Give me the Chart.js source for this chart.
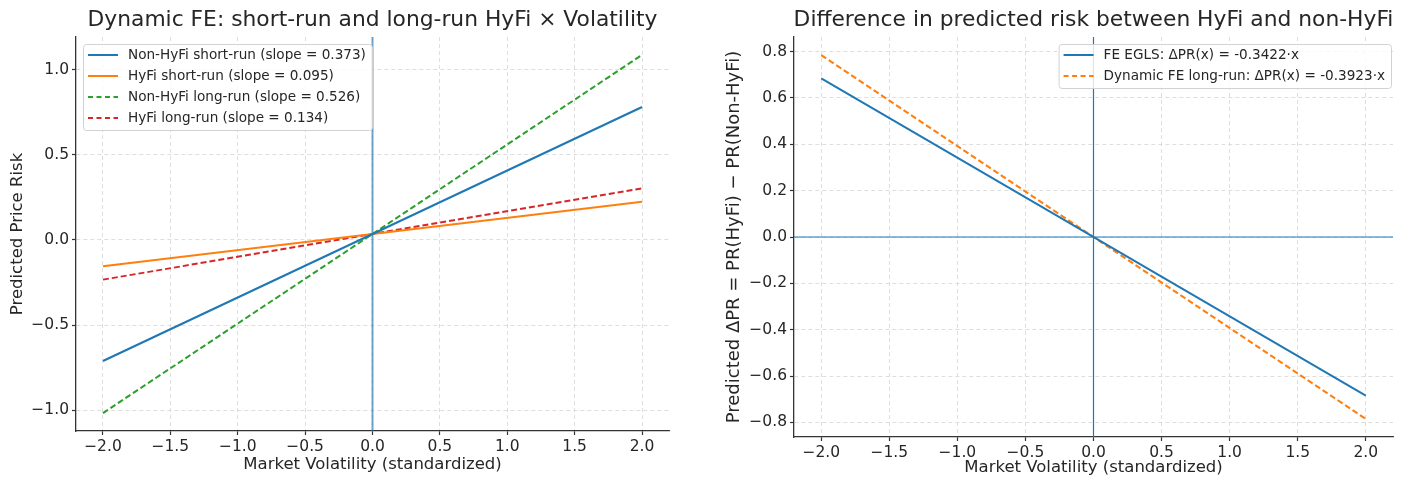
<!DOCTYPE html>
<html>
<head>
<meta charset="utf-8">
<script src="https://cdn.jsdelivr.net/npm/chart.js@4/dist/chart.umd.min.js"></script>
<style>
  body { margin: 0; background: #fff; }
  #wrap { position: relative; width: 1415px; height: 480px; }
  .panel { position: absolute; top: 0; height: 480px; }
</style>
</head>
<body>
<div id="wrap">
  <div class="panel" style="left:0;width:700px"><canvas id="left" width="700" height="480"></canvas></div>
  <div class="panel" style="left:700px;width:715px"><canvas id="right" width="715" height="480"></canvas></div>
</div>
<script>
// values (endpoints at x = -2 and x = 2)
const xVals = [-2, 2];
const nonHyfiShort = [-0.711, 0.781];
const hyfiShort = [-0.155, 0.225];
const nonHyfiLong = [-1.017, 1.087];
const hyfiLong = [-0.233, 0.303];
const feEgls = [0.684, -0.684];
const dynLongDiff = [0.785, -0.785];

const xTicks = [-2, -1.5, -1, -0.5, 0, 0.5, 1, 1.5, 2];
const leftYTicks = [-1, -0.5, 0, 0.5, 1];
const rightYTicks = [-0.8, -0.6, -0.4, -0.2, 0, 0.2, 0.4, 0.6, 0.8];

const FONT = "'DejaVu Sans', sans-serif";
const TXT = '#262626';

function pts(ys) { return xVals.map((x, i) => ({ x: x, y: ys[i] })); }
function fmt(v) { return (v < 0 ? '\u2212' : '') + Math.abs(v).toFixed(1); }

function series(label, ys, color, dashed) {
  return {
    label: label, data: pts(ys), borderColor: color, backgroundColor: color,
    borderWidth: 2, borderDash: dashed ? [6, 3] : [], pointRadius: 0, tension: 0
  };
}

// title centred over the plot area
const titlePlugin = {
  id: 'ptitle',
  afterDraw(chart, args, o) {
    const c = chart.ctx, a = chart.chartArea;
    c.save();
    c.font = '21.8px ' + FONT;
    c.fillStyle = TXT;
    c.textAlign = 'center';
    c.textBaseline = 'middle';
    c.fillText(o.text, (a.left + a.right) / 2, o.y);
    c.restore();
  }
};

// reference lines at 0
const zeroLines = {
  id: 'zeros',
  beforeDatasetsDraw(chart, args, o) {
    const c = chart.ctx, a = chart.chartArea;
    c.save();
    c.strokeStyle = o.color;
    c.lineWidth = o.width;
    const x0 = chart.scales.x.getPixelForValue(0);
    c.beginPath(); c.moveTo(x0, a.top); c.lineTo(x0, a.bottom); c.stroke();
    if (o.horizontal) {
      const y0 = chart.scales.y.getPixelForValue(0);
      c.beginPath(); c.moveTo(a.left, y0); c.lineTo(a.right, y0); c.stroke();
    }
    c.restore();
  }
};

// matplotlib-like legend inside the plot
const boxLegend = {
  id: 'boxlegend',
  afterDatasetsDraw(chart, args, o) {
    const c = chart.ctx, a = chart.chartArea;
    const ds = chart.data.datasets;
    const rowH = 21;
    c.save();
    c.font = '13.6px ' + FONT;
    let tw = 0;
    ds.forEach(d => { tw = Math.max(tw, c.measureText(d.label).width); });
    const w = 5 + 30 + 10 + tw + 6;
    const h = rowH * ds.length + 2;
    const bx = o.side === 'left' ? a.left + 7 : a.right - 2 - w;
    const by = a.top + 7;
    c.fillStyle = 'rgba(255,255,255,0.82)';
    c.strokeStyle = '#d2d2d2';
    c.lineWidth = 1;
    c.beginPath();
    c.roundRect(bx + 0.5, by + 0.5, w, h, 3);
    c.fill(); c.stroke();
    ds.forEach((d, i) => {
      const y = by + 11 + rowH * i;
      c.strokeStyle = d.borderColor;
      c.lineWidth = 2;
      c.setLineDash(d.borderDash.length ? [5, 3.5] : []);
      c.beginPath(); c.moveTo(bx + 5, y); c.lineTo(bx + 35, y); c.stroke();
      c.setLineDash([]);
      c.fillStyle = TXT;
      c.textBaseline = 'middle';
      c.fillText(d.label, bx + 45, y);
    });
    c.restore();
  }
};

function axes(yTicks, ymin, ymax, yTitle, yTitleSize, yW, xH, xTitlePadBottom, yTitlePad) {
  const grid = { color: '#d6d6d6', lineWidth: 0.8, tickColor: '#333', tickLength: 4, tickWidth: 1.2, tickBorderDash: [] };
  const border = { color: '#333', width: 1.3, dash: [4, 3] };
  const tick = { color: TXT, font: { family: FONT, size: 15.5 }, padding: 3, callback: v => fmt(v) };
  return {
    x: {
      type: 'linear', min: -2.2, max: 2.2,
      afterBuildTicks: s => { s.ticks = xTicks.map(v => ({ value: v })); },
      afterFit: s => { s.height = xH; },
      grid: grid, border: border, ticks: Object.assign({ maxRotation: 0 }, tick),
      title: { display: true, text: 'Market Volatility (standardized)', color: TXT,
               font: { family: FONT, size: 16.5 }, padding: { top: 0, bottom: xTitlePadBottom } }
    },
    y: {
      type: 'linear', min: ymin, max: ymax,
      afterBuildTicks: s => { s.ticks = yTicks.map(v => ({ value: v })); },
      afterFit: s => { s.width = yW; },
      grid: grid, border: border, ticks: tick,
      title: { display: true, text: yTitle, color: TXT,
               font: { family: FONT, size: yTitleSize }, padding: { top: yTitlePad, bottom: 0 } }
    }
  };
}

new Chart(document.getElementById('left'), {
  type: 'line',
  data: {
    datasets: [
      series('Non-HyFi short-run (slope = 0.373)', nonHyfiShort, '#1f77b4', false),
      series('HyFi short-run (slope = 0.095)', hyfiShort, '#ff7f0e', false),
      series('Non-HyFi long-run (slope = 0.526)', nonHyfiLong, '#2ca02c', true),
      series('HyFi long-run (slope = 0.134)', hyfiLong, '#d62728', true)
    ]
  },
  options: {
    responsive: false, animation: false,
    layout: { padding: { top: 37, right: 31, left: 0, bottom: 0 } },
    scales: axes(leftYTicks, -1.122, 1.192, 'Predicted Price Risk', 16.5, 76, 49, 5, 8),
    plugins: {
      legend: { display: false }, tooltip: { enabled: false },
      ptitle: { text: 'Dynamic FE: short-run and long-run HyFi \u00d7 Volatility', y: 20 },
      zeros: { color: 'rgba(31,119,180,0.65)', width: 2, horizontal: false },
      boxlegend: { side: 'left' }
    }
  },
  plugins: [titlePlugin, zeroLines, boxLegend]
});

new Chart(document.getElementById('right'), {
  type: 'line',
  data: {
    datasets: [
      series('FE EGLS: \u0394PR(x) = -0.3422\u00b7x', feEgls, '#1f77b4', false),
      series('Dynamic FE long-run: \u0394PR(x) = -0.3923\u00b7x', dynLongDiff, '#ff7f0e', true)
    ]
  },
  options: {
    responsive: false, animation: false,
    layout: { padding: { top: 37, right: 22, left: 0, bottom: 0 } },
    scales: axes(rightYTicks, -0.863, 0.863, 'Predicted \u0394PR = PR(HyFi) \u2212 PR(Non-HyFi)', 18, 94, 43, 2, 24),
    plugins: {
      legend: { display: false }, tooltip: { enabled: false },
      ptitle: { text: 'Difference in predicted risk between HyFi and non-HyFi', y: 20 },
      zeros: { color: '#1f77b4', width: 1.2, horizontal: true },
      boxlegend: { side: 'right' }
    }
  },
  plugins: [titlePlugin, zeroLines, boxLegend]
});
</script>
</body>
</html>
